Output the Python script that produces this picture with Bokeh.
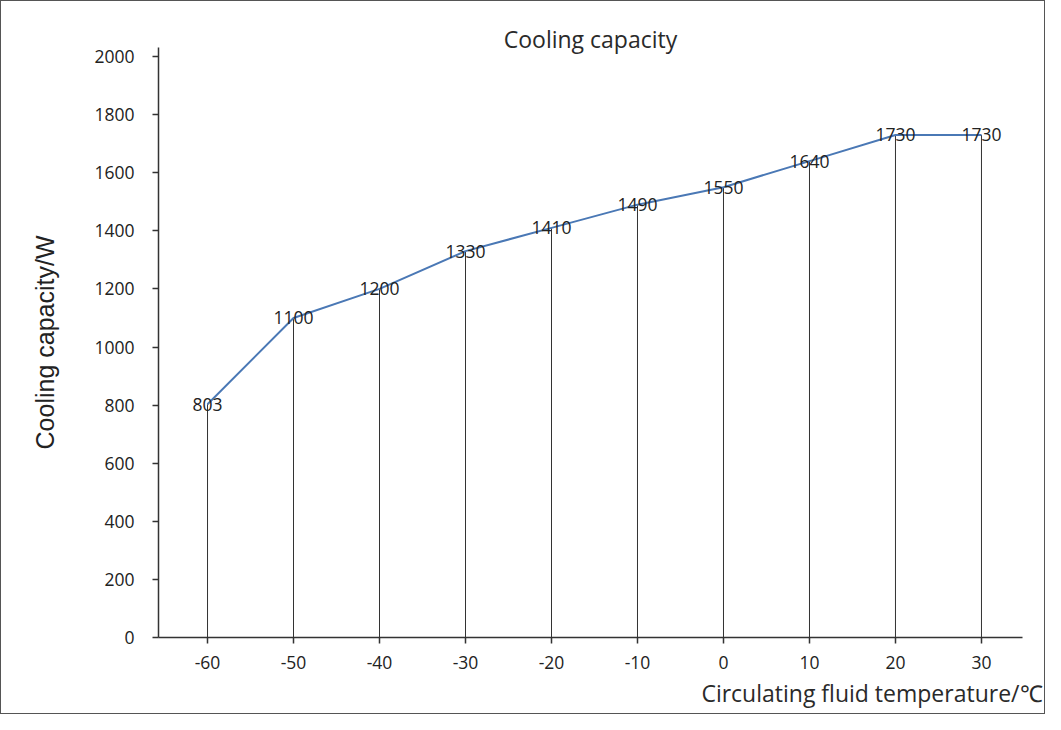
from bokeh.plotting import figure
from bokeh.models import ColumnDataSource, FixedTicker, Range1d, Title
from bokeh.core.properties import value
from bokeh.embed import file_html
from bokeh.resources import INLINE

# data
temps = [-60, -50, -40, -30, -20, -10, 0, 10, 20, 30]
capacity = [803, 1100, 1200, 1330, 1410, 1490, 1550, 1640, 1730, 1730]
y_ticks = [0, 200, 400, 600, 800, 1000, 1200, 1400, 1600, 1800, 2000]
x_tick_labels = {t: str(t) for t in temps}
title_text = "Cooling capacity"
x_label = "Circulating fluid temperature/℃"
y_label = "Cooling capacity/W"

src = ColumnDataSource(dict(x=temps, y=capacity, base=[0] * len(temps),
                            lab=[str(v) for v in capacity]))

p = figure(width=1045, height=714, output_backend="svg", toolbar_location=None,
           x_range=Range1d(-65.7, 34.77), y_range=Range1d(0, 2031),
           min_border_left=157, min_border_right=24, min_border_top=46,
           min_border_bottom=78)
p.styles = {"border": "1px solid #555555"}
p.outline_line_color = None
p.xgrid.visible = False
p.ygrid.visible = False
p.background_fill_color = "white"
p.border_fill_color = "white"

# drop lines
p.segment(x0="x", y0="base", x1="x", y1="y", source=src, line_color="#333333", line_width=1)
# series line
p.line(x="x", y="y", source=src, line_color="#4a78b5", line_width=2)
# data labels
p.text(x="x", y="y", text="lab", source=src, text_align="center", text_baseline="middle",
       text_font=value("Open Sans"), text_font_size="17.5px", text_color="#222222")

for ax in (p.xaxis[0], p.yaxis[0]):
    ax.axis_line_color = "#333333"
    ax.axis_line_width = 1.5
    ax.major_tick_line_color = "#333333"
    ax.major_tick_line_width = 1.5
    ax.major_tick_out = 6
    ax.major_tick_in = 0
    ax.minor_tick_line_color = None
    ax.major_label_text_font = "Open Sans"
    ax.major_label_text_font_size = "17.5px"
    ax.major_label_text_color = "#222222"

p.xaxis.ticker = FixedTicker(ticks=temps)
p.xaxis.major_label_overrides = x_tick_labels
p.yaxis.ticker = FixedTicker(ticks=y_ticks)
p.xaxis.major_label_standoff = 12
p.yaxis.major_label_standoff = 18

p.yaxis.axis_label = y_label
p.yaxis.axis_label_text_font = "Liberation Sans"
p.yaxis.axis_label_text_font_size = "25px"
p.yaxis.axis_label_text_font_style = "normal"
p.yaxis.axis_label_text_color = "#222222"
p.yaxis.axis_label_standoff = 32

p.title.text = title_text
p.title.align = "center"
p.title.vertical_align = "bottom"
p.title.text_font = "Open Sans"
p.title.text_font_size = "23px"
p.title.text_font_style = "normal"
p.title.text_color = "#2a2a2a"
p.title.text_line_height = 0.8
p.title.standoff = -14

p.add_layout(Title(text=x_label, align="right", vertical_align="bottom", offset=-20,
                   text_font="Open Sans", text_font_size="23px", text_font_style="normal",
                   text_color="#2a2a2a", text_line_height=0.8, standoff=6), "below")

open("out.html", "w").write(file_html(p, INLINE))
